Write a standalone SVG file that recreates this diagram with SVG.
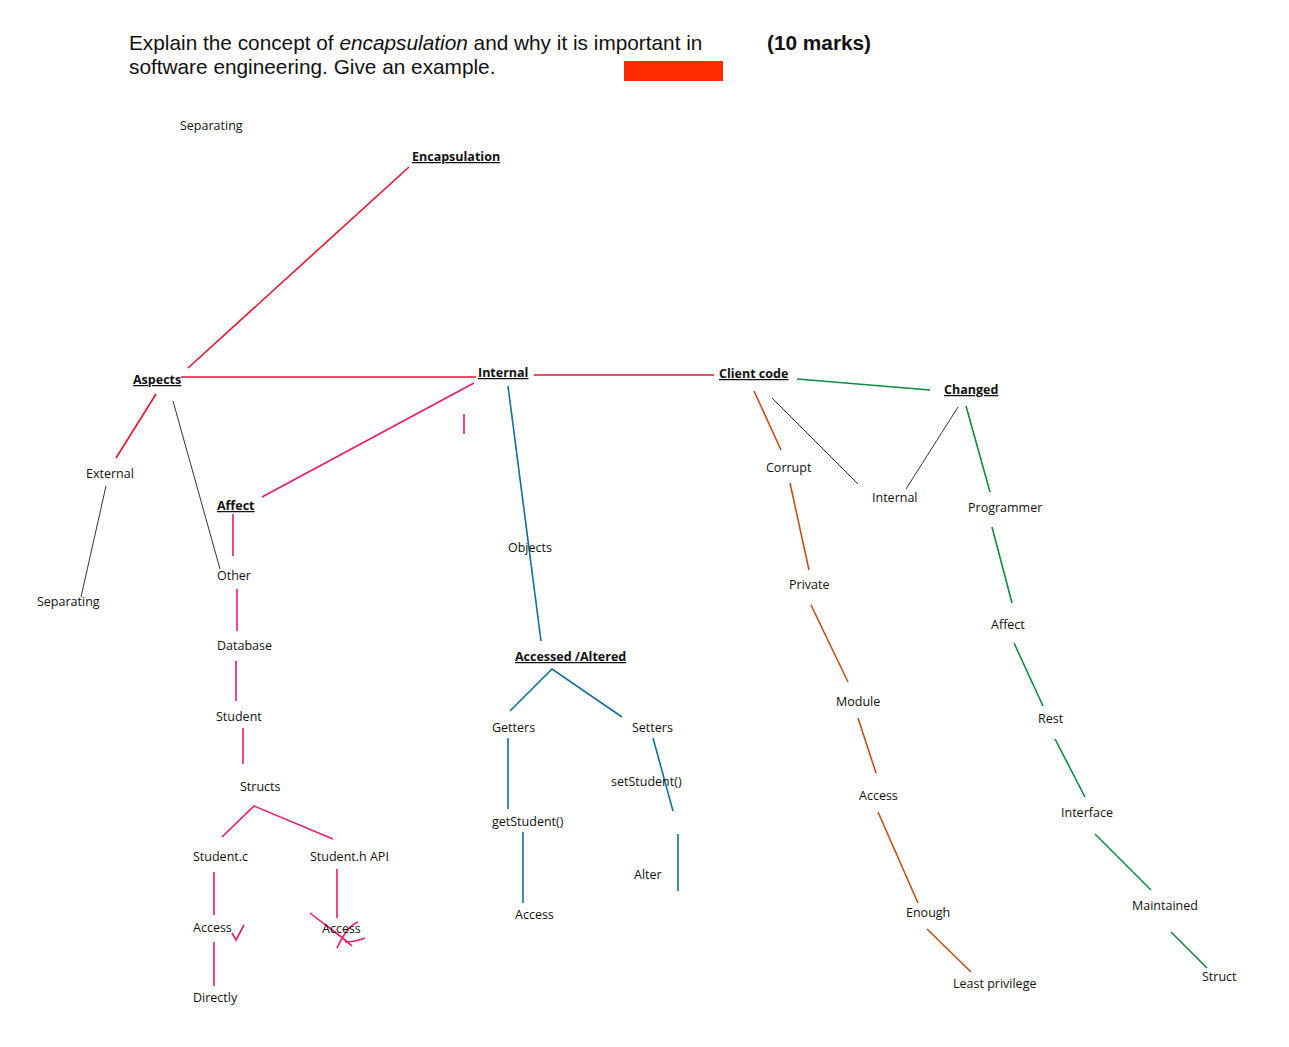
<svg xmlns="http://www.w3.org/2000/svg" width="1289" height="1047" viewBox="0 0 1289 1047">
<style>
text{font-family:"Open Sans","Liberation Sans",sans-serif;font-size:12.5px;fill:#111}
.h{font-family:"Liberation Sans",Arial,sans-serif;font-size:20.8px}
.u{font-weight:bold;text-decoration:underline}
line,path{fill:none;stroke-width:1.6}
.r{stroke:#e8132f}.p{stroke:#f0186a}.b{stroke:#0f6e9e}.o{stroke:#c0501a}.g{stroke:#0d8c3c}.k{stroke:#333;stroke-width:1}
</style>
<rect width="1289" height="1047" fill="#fff"/>
<text class="h" x="129" y="50">Explain the concept of <tspan font-style="italic">encapsulation</tspan> and why it is important in</text>
<text class="h" x="129" y="74">software engineering. Give an example.</text>
<text class="h" x="767" y="50" font-weight="bold">(10 marks)</text>
<rect x="624" y="61" width="99" height="20" fill="#ff2a00"/>
<g id="connectors">
<line class="r" x1="409" y1="167" x2="188" y2="368"/>
<line class="r" x1="181" y1="377" x2="476" y2="377"/>
<line class="r" x1="534" y1="375" x2="714" y2="375"/>
<line class="r" x1="156" y1="394" x2="116" y2="458"/>
<line class="k" x1="106" y1="486" x2="81" y2="597"/>
<line class="k" x1="173" y1="401" x2="220" y2="569"/>
<line class="p" x1="474" y1="383" x2="262" y2="497"/>
<line class="p" x1="464" y1="414" x2="464" y2="434"/>
<line class="p" x1="233" y1="514" x2="233" y2="556"/>
<line class="p" x1="237" y1="589" x2="237" y2="631"/>
<line class="p" x1="236" y1="661" x2="236" y2="701"/>
<line class="p" x1="243" y1="728" x2="243" y2="764"/>
<path class="p" d="M222 837 L254 806 L333 839"/>
<line class="p" x1="214" y1="872" x2="214" y2="915"/>
<line class="p" x1="214" y1="942" x2="214" y2="986"/>
<line class="p" x1="337" y1="869" x2="337" y2="918"/>
<path class="p" d="M232 933 L236 940 L244 925"/>
<path class="p" d="M310 913 C325 925 340 935 352 946 M337 948 C343 935 350 925 358 922 M345 942 C352 942 360 940 365 938"/>
<line class="b" x1="508" y1="386" x2="541" y2="641"/>
<path class="b" d="M510 711 L552 669 L622 717"/>
<line class="b" x1="508" y1="738" x2="508" y2="809"/>
<line class="b" x1="523" y1="832" x2="523" y2="903"/>
<line class="b" x1="653" y1="738" x2="673" y2="811"/>
<line class="b" x1="678" y1="834" x2="678" y2="891"/>
<line class="o" x1="754" y1="391" x2="781" y2="450"/>
<line class="o" x1="790" y1="483" x2="809" y2="570"/>
<line class="o" x1="811" y1="605" x2="848" y2="682"/>
<line class="o" x1="858" y1="718" x2="876" y2="773"/>
<line class="o" x1="878" y1="812" x2="918" y2="903"/>
<line class="o" x1="927" y1="929" x2="971" y2="972"/>
<line class="k" x1="772" y1="398" x2="858" y2="484"/>
<line class="k" x1="958" y1="407" x2="906" y2="489"/>
<line class="g" x1="797" y1="379" x2="930" y2="390"/>
<line class="g" x1="966" y1="406" x2="990" y2="492"/>
<line class="g" x1="992" y1="527" x2="1012" y2="603"/>
<line class="g" x1="1014" y1="643" x2="1043" y2="706"/>
<line class="g" x1="1055" y1="739" x2="1085" y2="797"/>
<line class="g" x1="1095" y1="834" x2="1151" y2="890"/>
<line class="g" x1="1171" y1="932" x2="1207" y2="968"/>
</g>
<g id="labels">
<text x="180" y="130">Separating</text>
<g id="n-enc"><text class="u" x="412" y="161">Encapsulation</text></g>
<g id="n-aspects"><text class="u" x="133" y="384">Aspects</text></g>
<g id="n-internal"><text class="u" x="478" y="377">Internal</text></g>
<g id="n-client"><text class="u" x="719" y="378">Client code</text></g>
<g id="n-changed"><text class="u" x="944" y="394">Changed</text></g>
<g id="n-external"><text x="86" y="478">External</text></g>
<g id="n-sep"><text x="37" y="606">Separating</text></g>
<g id="n-affect"><text class="u" x="217" y="510">Affect</text></g>
<g id="n-other"><text x="217" y="580">Other</text></g>
<g id="n-db"><text x="217" y="650">Database</text></g>
<g id="n-student"><text x="216" y="721">Student</text></g>
<g id="n-structs"><text x="240" y="791">Structs</text></g>
<g id="n-studc"><text x="193" y="861">Student.c</text></g>
<g id="n-studh"><text x="310" y="861">Student.h API</text></g>
<g id="n-acc1"><text x="193" y="932">Access</text></g>
<g id="n-acc2"><text x="322" y="933">Access</text></g>
<g id="n-directly"><text x="193" y="1002">Directly</text></g>
<g id="n-objects"><text x="508" y="552">Objects</text></g>
<g id="n-accalt"><text class="u" x="515" y="661">Accessed /Altered</text></g>
<g id="n-getters"><text x="492" y="732">Getters</text></g>
<g id="n-setters"><text x="632" y="732">Setters</text></g>
<g id="n-setstu"><text x="611" y="786">setStudent()</text></g>
<g id="n-getstu"><text x="492" y="826">getStudent()</text></g>
<g id="n-alter"><text x="634" y="879">Alter</text></g>
<g id="n-acc3"><text x="515" y="919">Access</text></g>
<g id="n-corrupt"><text x="766" y="472">Corrupt</text></g>
<g id="n-internal2"><text x="872" y="502">Internal</text></g>
<g id="n-private"><text x="789" y="589">Private</text></g>
<g id="n-module"><text x="836" y="706">Module</text></g>
<g id="n-acc4"><text x="859" y="800">Access</text></g>
<g id="n-enough"><text x="906" y="917">Enough</text></g>
<g id="n-least"><text x="953" y="988">Least privilege</text></g>
<g id="n-prog"><text x="968" y="512">Programmer</text></g>
<g id="n-affect2"><text x="991" y="629">Affect</text></g>
<g id="n-rest"><text x="1038" y="723">Rest</text></g>
<g id="n-iface"><text x="1061" y="817">Interface</text></g>
<g id="n-maint"><text x="1132" y="910">Maintained</text></g>
<g id="n-struct"><text x="1202" y="981">Struct</text></g>
</g>
</svg>
